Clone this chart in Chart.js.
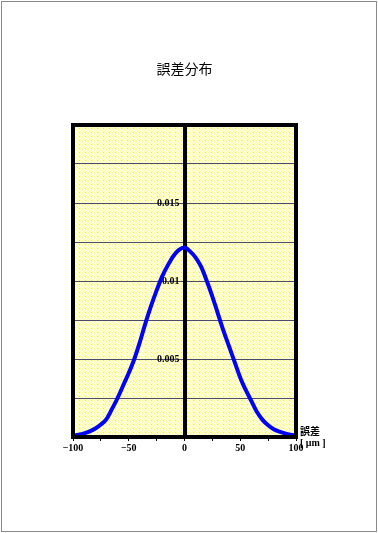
<!DOCTYPE html>
<html>
<head>
<meta charset="utf-8">
<script src="https://cdn.jsdelivr.net/npm/chart.js@4"></script>
<style>
  html, body { margin: 0; padding: 0; background: #fff; }
  canvas { display: block; }
</style>
</head>
<body>
<canvas id="myChart" width="378" height="533"></canvas>
<script>
// 誤差 [μm]
const errors = [-100, -95, -90, -85, -80, -75, -70, -65, -60, -55, -50, -45, -40, -35, -30, -25, -20, -15, -10, -5,
  0, 5, 10, 15, 20, 25, 30, 35, 40, 45, 50, 55, 60, 65, 70, 75, 80, 85, 90, 95, 100]
// 確率密度
const density = [0.00008, 0.00014, 0.00023, 0.00036, 0.00054, 0.0008, 0.00115, 0.0018, 0.0025, 0.0033, 0.0041,
  0.0050, 0.0061, 0.0073, 0.0084, 0.0094, 0.0103, 0.0110, 0.0116, 0.0120,
  0.01215, 0.0119, 0.0115, 0.0109, 0.0100, 0.0090, 0.0079, 0.0068, 0.0058, 0.0048, 0.0038,
  0.0030, 0.0023, 0.0016, 0.0011, 0.00075, 0.0005, 0.00034, 0.00023, 0.00015, 0.0001]
const xTickLabels = [-100, -50, 0, 50, 100]
const yTickLabels = [0.005, 0.01, 0.015]

const title = '誤差分布'
const axisLabel = ['誤差', '[ μm ]']

const labelFont = { family: 'Liberation Serif', size: 10, weight: 'bold' }

// pale yellow speckled fill like the original plot area
function makePattern(ctx) {
  const c = document.createElement('canvas')
  c.width = 6; c.height = 4
  const p = c.getContext('2d')
  p.fillStyle = '#ffffb2'
  p.fillRect(0, 0, 6, 4)
  p.fillStyle = '#ffffff'
  p.fillRect(0, 1, 1, 1); p.fillRect(3, 1, 1, 1); p.fillRect(1, 3, 1, 1); p.fillRect(4, 3, 1, 1)
  p.fillRect(2, 2, 1, 1); p.fillRect(5, 0, 1, 1); p.fillRect(5, 2, 1, 1)
  p.fillStyle = '#dcdccc'
  p.fillRect(1, 0, 1, 1)
  return ctx.createPattern(c, 'repeat')
}

const decor = {
  id: 'decor',
  beforeDraw(chart) {
    const { ctx, chartArea: a } = chart
    ctx.save()
    ctx.fillStyle = '#fff'
    ctx.fillRect(0, 0, chart.width, chart.height)
    ctx.strokeStyle = '#8a8a8a'
    ctx.lineWidth = 1
    ctx.strokeRect(1.5, 1.5, chart.width - 3, chart.height - 3)
    ctx.fillStyle = makePattern(ctx)
    ctx.fillRect(a.left, a.top, a.right - a.left, a.bottom - a.top)
    ctx.restore()
  },
  afterDraw(chart) {
    const { ctx, chartArea: a } = chart
    ctx.save()
    ctx.strokeStyle = '#000'
    ctx.lineWidth = 4
    ctx.strokeRect(a.left, a.top, a.right - a.left, a.bottom - a.top)
    ctx.fillStyle = '#000'
    ctx.textAlign = 'left'
    ctx.textBaseline = 'middle'
    ctx.font = 'bold 10px "Noto Sans CJK JP"'
    ctx.fillText(axisLabel[0], a.right + 4, a.bottom - 6)
    ctx.font = 'bold 10px "Liberation Serif"'
    ctx.fillText(axisLabel[1], a.right + 4, a.bottom + 6)
    ctx.restore()
  }
}

const ctx = document.getElementById('myChart')
const chart = new Chart(ctx, {
  type: 'line',
  data: {
    datasets: [{
      data: errors.map((x, i) => ({ x: x, y: density[i] })),
      borderColor: '#0000ff',
      borderWidth: 4,
      pointRadius: 0,
      cubicInterpolationMode: 'monotone',
      fill: false
    }]
  },
  options: {
    responsive: false,
    animation: false,
    layout: { padding: { left: 73, right: 82, top: 0, bottom: 76 } },
    plugins: {
      legend: { display: false },
      tooltip: { enabled: false },
      title: {
        display: true,
        text: title,
        color: '#000',
        font: { family: 'Noto Sans CJK JP', size: 14, weight: 'normal' },
        padding: { top: 60, bottom: 48.2 }
      }
    },
    scales: {
      x: {
        type: 'linear',
        min: -100,
        max: 100,
        ticks: {
          stepSize: 25,
          autoSkip: false,
          maxRotation: 0,
          color: '#000',
          font: labelFont,
          padding: 1,
          callback: (v) => xTickLabels.includes(v) ? (v < 0 ? '−' + (-v) : String(v)) : ''
        },
        grid: { drawOnChartArea: false, drawTicks: true, tickLength: 4, color: '#000', lineWidth: 1 },
        border: { color: '#000', width: 4 },
        afterFit: (s) => { s.height = 20 }
      },
      y: {
        type: 'linear',
        min: 0,
        max: 0.02,
        position: { x: 0 },
        ticks: {
          stepSize: 0.0025,
          color: '#000',
          font: labelFont,
          // trailing spaces keep the label clear of the centre axis line
          callback: (v) => {
            const hit = yTickLabels.find(t => Math.abs(t - v) < 1e-9)
            return hit !== undefined ? String(hit) + '  ' : ''
          }
        },
        grid: { color: '#4c4c68', lineWidth: 1, tickLength: 3 },
        border: { color: '#000', width: 4 },
        afterFit: (s) => { s.width = 0 }
      }
    }
  },
  plugins: [decor]
})
</script>
</body>
</html>
